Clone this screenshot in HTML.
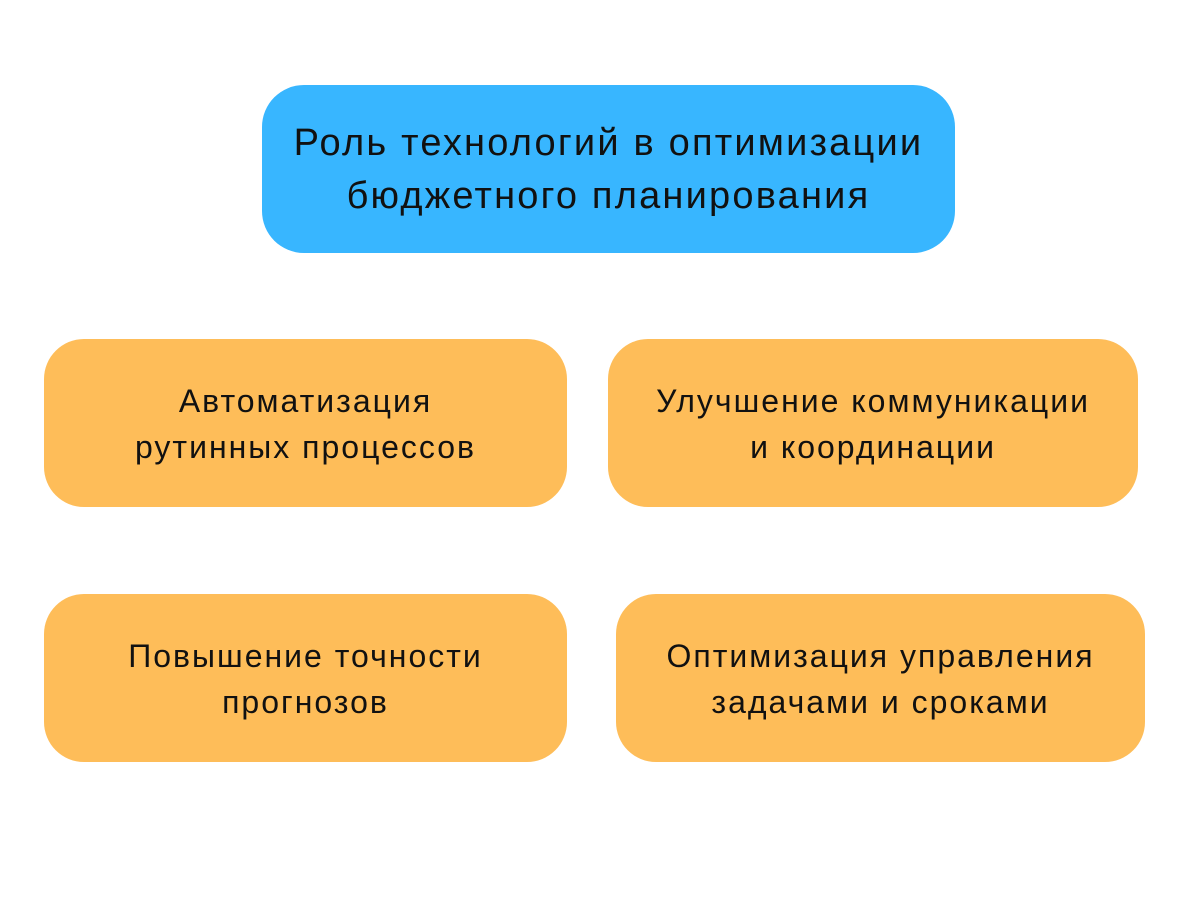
<!DOCTYPE html>
<html><head><meta charset="utf-8"><style>
html,body{margin:0;padding:0;background:#fff;width:1200px;height:900px;overflow:hidden}
.b{position:absolute;display:flex;align-items:center;justify-content:center;text-align:center;color:#111;font-family:"Liberation Sans","DejaVu Sans",sans-serif;box-sizing:border-box;padding-top:2px}
.t{left:262px;top:85px;width:693px;height:168px;background:#38B6FF;border-radius:42px;font-size:38px;line-height:53px;letter-spacing:2.2px}
.o{background:#FEBD59;border-radius:40px;font-size:32px;line-height:46px;height:168px;letter-spacing:2px}
</style></head><body>
<div class="b t">Роль технологий в оптимизации<br>бюджетного планирования</div>
<div class="b o" style="left:44px;top:339px;width:523px">Автоматизация<br>рутинных процессов</div>
<div class="b o" style="left:608px;top:339px;width:530px">Улучшение коммуникации<br>и координации</div>
<div class="b o" style="left:44px;top:594px;width:523px">Повышение точности<br>прогнозов</div>
<div class="b o" style="left:616px;top:594px;width:529px">Оптимизация управления<br>задачами и сроками</div>
</body></html>
